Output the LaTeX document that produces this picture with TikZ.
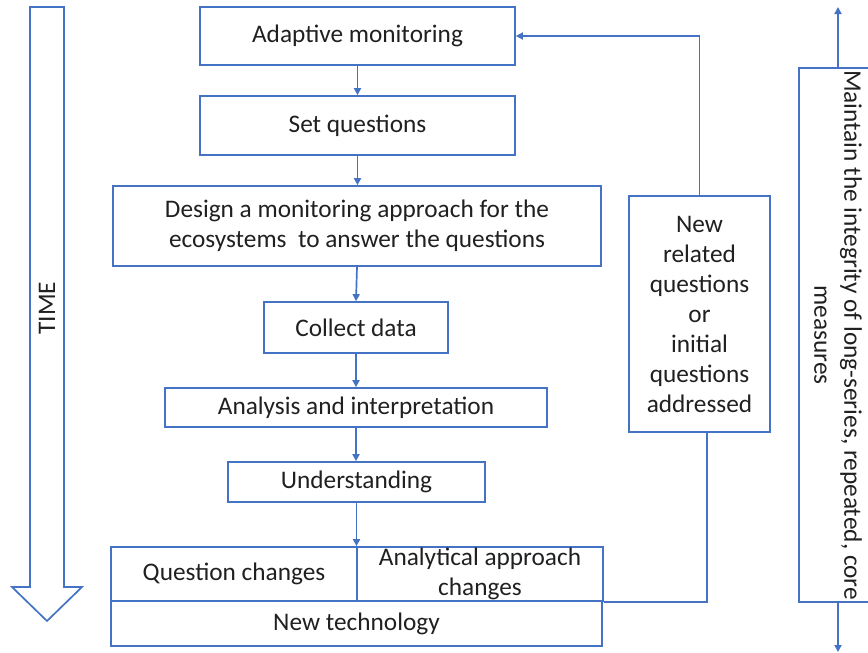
\documentclass[tikz,border=0pt]{standalone}
\usepackage{fontspec}
\setmainfont{Carlito}
\usetikzlibrary{arrows.meta}
\definecolor{bl}{HTML}{4472C4}
\definecolor{tx}{HTML}{202020}
\begin{document}
\begin{tikzpicture}[x=1pt,y=-1pt,
  every node/.style={text=tx,font=\fontsize{25.3}{30}\selectfont},
  box/.style={draw=bl,line width=1.7pt,inner sep=0pt,align=center},
  conn/.style={draw=bl,line width=1.7pt},
  arr/.style={conn,-{Triangle[length=7pt,width=7pt]}}]
\useasboundingbox (0,0) rectangle (868,653);
\clip (0,0) rectangle (868,653);
% TIME arrow
\draw[bl,line width=1.7pt,line join=miter] (30,7) -- (64,7) -- (64,587) -- (82,587) -- (47,621) -- (12,587) -- (30,587) -- cycle;
\node[rotate=90] (time) at (47,308) {TIME};
% main column
\node[box,minimum width=315,minimum height=58] (am) at (357.5,36) {Adaptive monitoring};
\node[box,minimum width=315,minimum height=59] (sq) at (357.5,125.5) {Set questions};
\node[box,minimum width=488,minimum height=80] (de) at (357,226) {Design a monitoring approach for the\\ecosystems\ \ to answer the questions};
\node[box,minimum width=184,minimum height=51] (cd) at (356,327.5) {Collect data};
\node[box,minimum width=382,minimum height=39] (an) at (356,407.5) {Analysis and interpretation};
\node[box,minimum width=257,minimum height=40] (un) at (356.5,482) {Understanding};
\node[box,minimum width=246,minimum height=54] (qc) at (234,574) {Question changes};
\node[box,minimum width=246,minimum height=54] (ac) at (480,574) {Analytical approach\\changes};
\node[box,minimum width=491,minimum height=45] (nt) at (356.5,623.5) {New technology};
% feedback box
\node[box,minimum width=141,minimum height=236] (nq) at (699.5,314) {New\\related\\questions\\or\\initial\\questions\\addressed};
% right bar
\node[box,minimum width=78,minimum height=534] (mi) at (838,335) {};
\node[rotate=-90,align=center] (mit) at (mi.center) {Maintain the integrity of long-series, repeated, core\\measures};
\coordinate (mtop) at (838,7);
\coordinate (mbot) at (838,652);
% connectors
\draw[arr] (am.south) -- (sq.north);
\draw[arr] (sq.south) -- (sq.south |- de.north);
\draw[arr] (de.south) -- (cd.north);
\draw[arr] (cd.south) -- (cd.south |- an.north);
\draw[arr] (an.south) -- (an.south |- un.north);
\draw[arr] (un.south) -- (un.south |- qc.north);
\draw[conn] (ac.south east) -| ([xshift=7.5pt]nq.south);
\draw[arr] (nq.north) |- (am.east);
\draw[arr] (mi.north) -- (mtop);
\draw[arr] (mi.south) -- (mbot);
\end{tikzpicture}
\end{document}
